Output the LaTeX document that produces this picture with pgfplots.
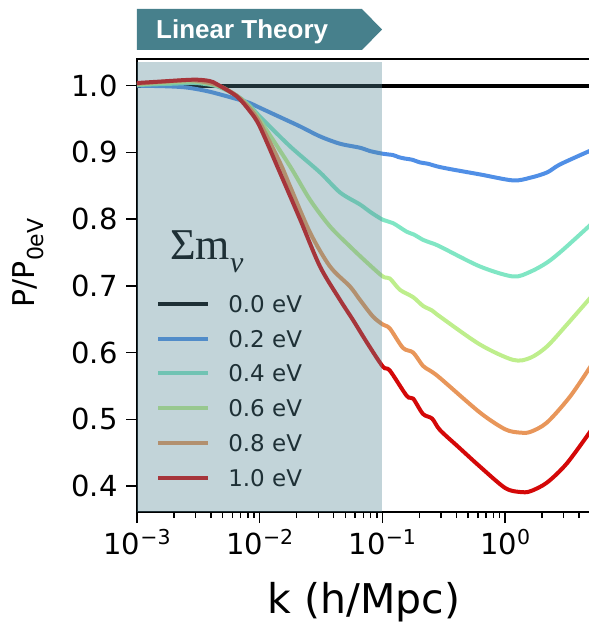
\documentclass[border=0pt]{standalone}
\usepackage{pgfplots}
\pgfplotsset{compat=1.18}
\usepackage{fontspec}
\setmainfont{DejaVu Sans}
\newfontfamily\seriffont{Liberation Serif}
\newfontfamily\bannerfont{Liberation Sans}
\definecolor{c2}{RGB}{80,143,230}
\definecolor{c4}{RGB}{128,230,196}
\definecolor{c6}{RGB}{190,238,140}
\definecolor{c8}{RGB}{232,150,90}
\definecolor{c10}{RGB}{212,8,8}
\definecolor{shadec}{RGB}{85,135,150}
\definecolor{bannerc}{RGB}{71,128,140}
\begin{document}
\begin{tikzpicture}
\path[use as bounding box] (-137pt,-110pt) rectangle (452pt,512pt);
\begin{axis}[
  at={(0pt,0pt)}, anchor=south west, scale only axis,
  width=453.9pt, height=453pt,
  xmode=log, xmin=0.001, xmax=5, ymin=0.361, ymax=1.040,
  axis line style={line width=1.6pt},
  tick style={line width=1.4pt, black},
  tick align=outside,
  major tick length=11pt, minor tick length=6pt,
  xtick pos=left, ytick pos=left,
  xtick={0.001,0.01,0.1,1},
  xticklabels={{10\raisebox{10pt}{\fontsize{20.5}{20}\selectfont −3}},
               {10\raisebox{10pt}{\fontsize{20.5}{20}\selectfont −2}},
               {10\raisebox{10pt}{\fontsize{20.5}{20}\selectfont −1}},
               {10\raisebox{10pt}{\fontsize{20.5}{20}\selectfont 0}}},
  minor xtick={0.002,0.003,0.004,0.005,0.006,0.007,0.008,0.009,
               0.02,0.03,0.04,0.05,0.06,0.07,0.08,0.09,
               0.2,0.3,0.4,0.5,0.6,0.7,0.8,0.9,2,3,4},
  ytick={0.4,0.5,0.6,0.7,0.8,0.9,1.0},
  yticklabels={0.4,0.5,0.6,0.7,0.8,0.9,1.0},
  tick label style={font=\fontsize{29}{29}\selectfont},
  yticklabel style={xshift=-5pt},
  xticklabel style={yshift=-3pt},
  xlabel={k (h/Mpc)},
  xlabel style={font=\fontsize{41}{41}\selectfont, at={(axis description cs:0.5,0)}, anchor=base, yshift=-101pt},
  ylabel={P/P\raisebox{-9pt}{\fontsize{22}{22}\selectfont 0eV}},
  ylabel style={font=\fontsize{30}{30}\selectfont, at={(axis description cs:-0.225,0.55)}, anchor=base},
  legend image code/.code={\draw[#1] (0pt,0pt) -- (50pt,0pt);},
  legend style={at={(rel axis cs:0.042,0.479)}, anchor=north west, draw=none, fill=none,
    font=\fontsize{23}{23}\selectfont, inner sep=0pt, row sep=17.8pt,
    nodes={inner sep=0pt, text height=17pt, text depth=0pt},
    /tikz/every odd column/.append style={column sep=18pt}},
  legend cell align=left,
  every axis plot/.append style={line width=4pt, smooth},
]
\addplot[black, smooth=false] coordinates {(0.001,1.0) (5,1.0)};
\addlegendentry{0.0 eV}
\addplot[c2] coordinates {(0.001,1.000) (0.0018,0.999) (0.0026,0.997) (0.0039,0.991) (0.0065,0.980) (0.0083,0.974) (0.010,0.967) (0.0146,0.953) (0.0213,0.939) (0.031,0.924) (0.0451,0.913) (0.0656,0.907) (0.0792,0.902) (0.1008,0.898) (0.122,0.896) (0.135,0.893) (0.150,0.891) (0.175,0.889) (0.202,0.885) (0.235,0.883) (0.279,0.879) (0.356,0.875) (0.624,0.867) (1.16,0.858) (1.6,0.862) (2.2,0.870) (2.8,0.882) (5,0.903)};
\addlegendentry{0.2 eV}
\addplot[c4] coordinates {(0.001,1.001) (0.002,1.003) (0.003,1.004) (0.0045,0.999) (0.0065,0.985) (0.0083,0.970) (0.010,0.954) (0.0177,0.909) (0.031,0.870) (0.0451,0.840) (0.0656,0.822) (0.0792,0.811) (0.1008,0.799) (0.122,0.794) (0.158,0.781) (0.180,0.777) (0.214,0.769) (0.244,0.765) (0.294,0.759) (0.624,0.729) (1.16,0.714) (1.6,0.721) (2.2,0.735) (2.96,0.754) (5,0.792)};
\addlegendentry{0.4 eV}
\addplot[c6] coordinates {(0.001,1.002) (0.002,1.005) (0.0029,1.006) (0.0045,1.000) (0.0065,0.985) (0.0083,0.968) (0.010,0.949) (0.0177,0.879) (0.0257,0.829) (0.0374,0.789) (0.0544,0.759) (0.0748,0.735) (0.1008,0.714) (0.115,0.711) (0.139,0.694) (0.178,0.683) (0.214,0.670) (0.254,0.663) (0.294,0.654) (0.624,0.612) (1.16,0.589) (1.6,0.592) (2.19,0.609) (3.19,0.642) (5,0.683)};
\addlegendentry{0.6 eV}
\addplot[c8] coordinates {(0.001,1.003) (0.002,1.007) (0.0029,1.008) (0.0045,1.001) (0.0065,0.985) (0.0083,0.966) (0.010,0.945) (0.0146,0.885) (0.0177,0.849) (0.0257,0.780) (0.0374,0.729) (0.0544,0.699) (0.0656,0.679) (0.0837,0.654) (0.1008,0.642) (0.115,0.636) (0.147,0.607) (0.178,0.600) (0.214,0.580) (0.244,0.573) (0.294,0.562) (0.624,0.510) (1.0,0.485) (1.32,0.480) (1.6,0.481) (2.19,0.495) (3.38,0.534) (5,0.580)};
\addlegendentry{0.8 eV}
\addplot[c10] coordinates {(0.001,1.004) (0.0015,1.006) (0.0029,1.009) (0.0039,1.007) (0.0045,1.002) (0.0065,0.984) (0.0083,0.962) (0.010,0.939) (0.0146,0.870) (0.0213,0.800) (0.031,0.729) (0.0451,0.679) (0.0575,0.649) (0.0748,0.615) (0.1008,0.579) (0.115,0.573) (0.158,0.535) (0.178,0.531) (0.214,0.508) (0.254,0.501) (0.294,0.484) (0.413,0.459) (0.624,0.429) (1.0,0.397) (1.32,0.391) (1.6,0.392) (2.19,0.405) (3.19,0.434) (5,0.483)};
\addlegendentry{1.0 eV}
\coordinate (sA) at (axis cs:0.001,0.361);
\coordinate (sB) at (axis cs:0.1,1.0355);
\end{axis}
\node[anchor=base west, inner sep=0pt] at (33pt,252pt) {\seriffont\fontsize{44}{44}\selectfont Σm\raisebox{-13pt}{\fontsize{30}{30}\selectfont\itshape ν}};
\fill[shadec, opacity=0.36] (sA) rectangle (sB);
\fill[bannerc] (0pt,462pt) -- (225pt,462pt) -- (245pt,482.5pt) -- (225pt,503pt) -- (0pt,503pt) -- cycle;
\node[anchor=base west, inner sep=0pt, text=white] at (19pt,473.4pt) {\bannerfont\bfseries\fontsize{26}{26}\selectfont Linear Theory};
\end{tikzpicture}
\end{document}
